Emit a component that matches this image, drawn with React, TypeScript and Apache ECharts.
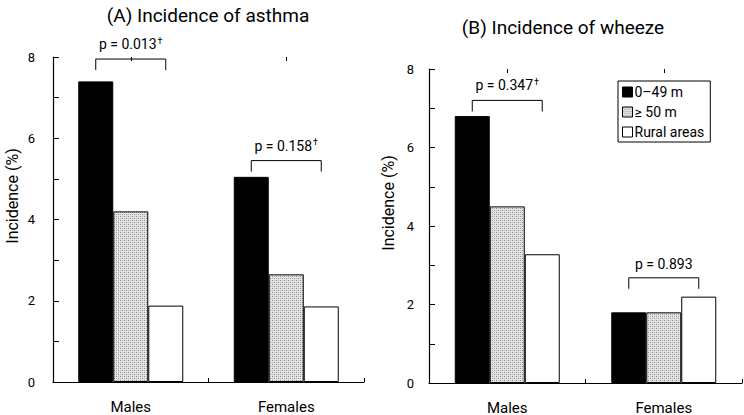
import React, { useEffect, useRef } from "react";
import * as echarts from "echarts";

const categories = ["Males", "Females"];
const seriesNames = ["0–49 m", "≥ 50 m", "Rural areas"];
// Panel A: incidence of asthma (%)
const asthmaNear = [7.4, 5.05];
const asthmaFar = [4.2, 2.65];
const asthmaRural = [1.88, 1.86];
// Panel B: incidence of wheeze (%)
const wheezeNear = [6.8, 1.8];
const wheezeFar = [4.5, 1.8];
const wheezeRural = [3.28, 2.2];
// significance brackets
const bracketLevelsA = [7.95, 5.45];
const bracketTextA = ["p = 0.013", "p = 0.158"];
const bracketDaggerA = [true, true];
const bracketLevelsB = [7.2, 2.68];
const bracketTextB = ["p = 0.347", "p = 0.893"];
const bracketDaggerB = [true, false];
const yTicks = [0, 2, 4, 6, 8];

const FONT = "Roboto, 'DejaVu Sans', sans-serif";

function makePattern(): any {
  const c = document.createElement("canvas");
  c.width = 4;
  c.height = 4;
  const ctx = c.getContext("2d")!;
  ctx.fillStyle = "#e4e4e4";
  ctx.fillRect(0, 0, 4, 4);
  ctx.fillStyle = "#8a8a8a";
  ctx.fillRect(0, 0, 1, 1);
  ctx.fillRect(2, 2, 1, 1);
  ctx.fillStyle = "#b8b8b8";
  ctx.fillRect(2, 0, 1, 1);
  ctx.fillRect(0, 2, 1, 1);
  return { image: c, repeat: "repeat" };
}

export default function App() {
  const ref = useRef<HTMLDivElement>(null);
  useEffect(() => {
    if (!ref.current) return;
    const chart = echarts.init(ref.current, undefined, { renderer: "svg" });
    const pattern = makePattern();
    const colors = ["#000000", pattern, "#ffffff"];
    const BW = 35;

    const yAxis = (gridIndex: number) => ({
      type: "value",
      gridIndex,
      min: 0,
      max: 8,
      interval: 1,
      axisLine: { show: true, lineStyle: { color: "#000", width: 1.2 } },
      axisTick: { show: true, inside: true, length: 6, lineStyle: { color: "#000" } },
      splitLine: { show: false },
      axisLabel: {
        color: "#000",
        fontSize: 13,
        fontFamily: FONT,
        margin: gridIndex === 0 ? 18 : 15,
        formatter: (v: number) => (yTicks.indexOf(v) >= 0 ? String(v) : ""),
      },
    });
    const xMain = (gridIndex: number) => ({
      type: "category",
      gridIndex,
      data: categories,
      axisLine: { show: true, lineStyle: { color: "#000", width: 1.2 } },
      axisTick: { show: true, inside: true, length: 4, lineStyle: { color: "#000" } },
      axisLabel: { color: "#000", fontSize: 15, fontFamily: FONT, margin: 17 },
    });
    const xCenter = (gridIndex: number) => ({
      type: "category",
      gridIndex,
      data: categories,
      axisLine: { show: false },
      axisTick: { show: true, inside: true, alignWithLabel: true, length: 4, lineStyle: { color: "#000" } },
      axisLabel: { show: false },
    });

    const bar = (name: string, data: number[], i: number, xAxisIndex: number, yAxisIndex: number) => ({
      type: "bar",
      name,
      data,
      xAxisIndex,
      yAxisIndex,
      barWidth: BW,
      barGap: "0%",
      itemStyle: { color: colors[i], borderColor: "#000", borderWidth: 1 },
    });

    const bracket = (levels: number[], texts: string[], daggers: boolean[], xAxisIndex: number, yAxisIndex: number) => ({
      type: "custom",
      xAxisIndex,
      yAxisIndex,
      clip: false,
      data: levels.map((v, i) => [i, v]),
      renderItem: (params: any, api: any) => {
        const idx = params.dataIndex;
        const c = api.coord([api.value(0), api.value(1)]);
        const x0 = c[0] - BW;
        const x1 = c[0] + BW;
        const y = c[1];
        const label = daggers[idx] ? `{t|${texts[idx]}}{s|†}` : `{t|${texts[idx]}}`;
        return {
          type: "group",
          children: [
            {
              type: "polyline",
              shape: { points: [[x0, y + 11], [x0, y], [x1, y], [x1, y + 11]] },
              style: { stroke: "#000", fill: null, lineWidth: 1 },
            },
            {
              type: "text",
              x: c[0],
              y: y - 7,
              style: {
                text: label,
                align: "center",
                verticalAlign: "bottom",
                fill: "#000",
                rich: {
                  t: { fontSize: 14, fontFamily: FONT, fill: "#000" },
                  s: { fontSize: 9, fontFamily: FONT, fill: "#000", padding: [0, 0, 7, 1] },
                },
              },
            },
          ],
        };
      },
    });

    chart.setOption({
      animation: false,
      backgroundColor: "#fff",
      title: [
        {
          text: "(A) Incidence of asthma",
          left: 203,
          top: 1,
          textAlign: "center",
          textStyle: { fontSize: 19, fontWeight: "normal", fontFamily: FONT, color: "#000" },
        },
        {
          text: "(B) Incidence of wheeze",
          left: 558,
          top: 13,
          textAlign: "center",
          textStyle: { fontSize: 19, fontWeight: "normal", fontFamily: FONT, color: "#000" },
        },
      ],
      legend: {
        data: seriesNames,
        orient: "vertical",
        left: 618,
        top: 81,
        itemWidth: 10,
        itemHeight: 10,
        itemGap: 6,
        icon: "rect",
        padding: [4, 6, 3, 4],
        borderColor: "#000",
        borderWidth: 1,
        textStyle: { fontSize: 14, fontFamily: FONT, color: "#000", lineHeight: 14, padding: [0, 0, 0, -3] },
        itemStyle: { borderColor: "#000", borderWidth: 1 },
      },
      grid: [
        { left: 53, top: 57, width: 311, height: 325 },
        { left: 429, top: 69, width: 313, height: 316 },
      ],
      xAxis: [xMain(0), xCenter(0), xMain(1), xCenter(1)],
      yAxis: [yAxis(0), yAxis(1)],
      graphic: [
        {
          type: "text",
          x: 12,
          y: 196,
          rotation: Math.PI / 2,
          style: { text: "Incidence (%)", fontSize: 16, fontFamily: FONT, fill: "#000", align: "center", verticalAlign: "middle" },
        },
        {
          type: "text",
          x: 388,
          y: 203,
          rotation: Math.PI / 2,
          style: { text: "Incidence (%)", fontSize: 16, fontFamily: FONT, fill: "#000", align: "center", verticalAlign: "middle" },
        },
      ],
      series: [
        bar(seriesNames[0], asthmaNear, 0, 0, 0),
        bar(seriesNames[1], asthmaFar, 1, 0, 0),
        bar(seriesNames[2], asthmaRural, 2, 0, 0),
        bar(seriesNames[0], wheezeNear, 0, 2, 1),
        bar(seriesNames[1], wheezeFar, 1, 2, 1),
        bar(seriesNames[2], wheezeRural, 2, 2, 1),
        bracket(bracketLevelsA, bracketTextA, bracketDaggerA, 0, 0),
        bracket(bracketLevelsB, bracketTextB, bracketDaggerB, 2, 1),
      ],
    });
    return () => chart.dispose();
  }, []);
  return <div ref={ref} style={{ position: "fixed", left: 0, top: 0, width: 744, height: 415 }} />;
}
